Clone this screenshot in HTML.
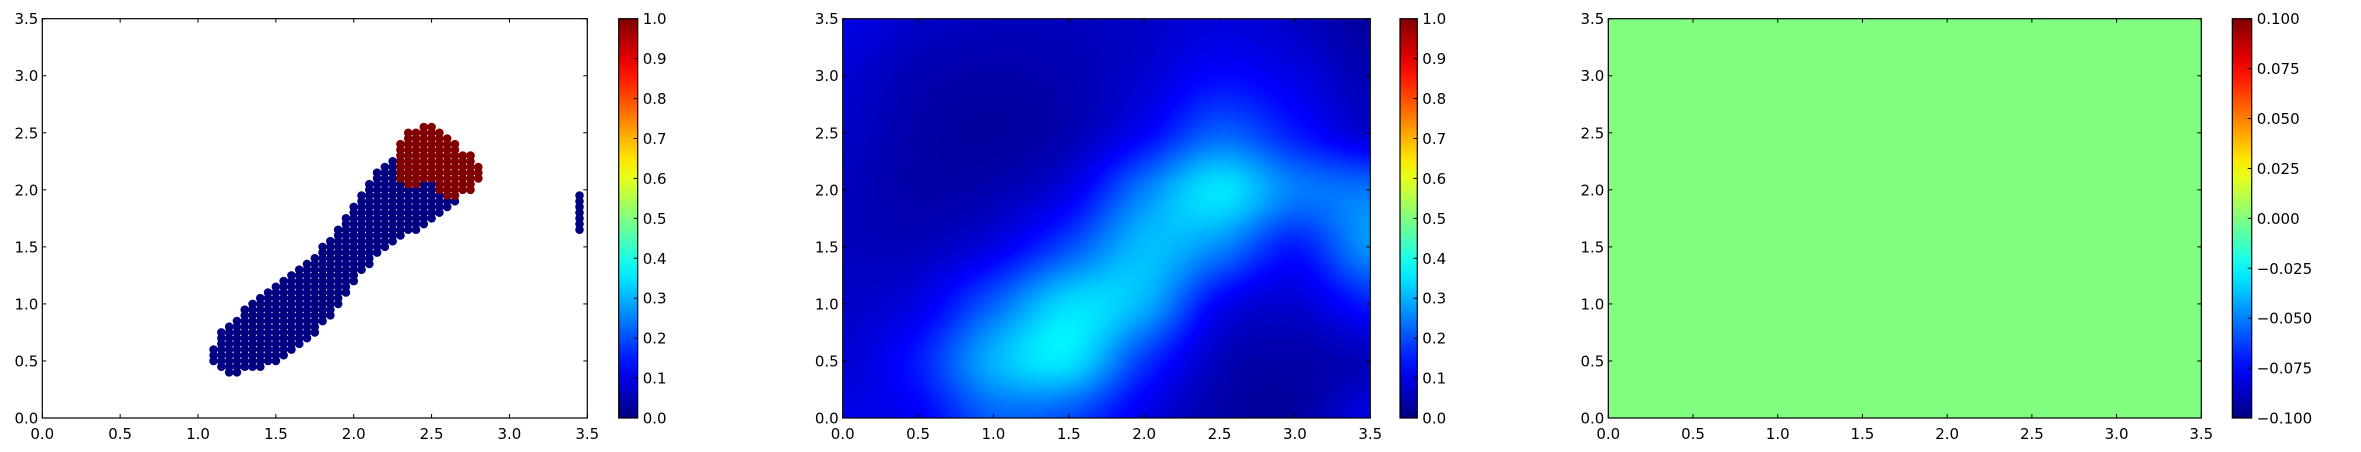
<!DOCTYPE html>
<html><head><meta charset="utf-8">
<style>
html,body{margin:0;padding:0;background:#fff;width:2361px;height:452px;overflow:hidden}
#wrap{position:relative;width:2361px;height:452px}
canvas,svg{position:absolute;left:0;top:0}
text{font-family:"DejaVu Sans","Liberation Sans",sans-serif;font-size:15px;fill:#000}
</style></head>
<body>
<div id="wrap">
<canvas id="heat" width="2361" height="452"></canvas>
<svg id="fig" width="2361" height="452" xmlns="http://www.w3.org/2000/svg"></svg>
</div>
<script>
// ---- Panel 1 scatter data (columns at x step 0.05) ----
const colX = [1.10,1.15,1.20,1.25,1.30,1.35,1.40,1.45,1.50,1.55,1.60,1.65,1.70,1.75,1.80,1.85,1.90,1.95,2.00,2.05,2.10,2.15,2.20,2.25,2.30,2.35,2.40,2.45,2.50,2.55,2.60,2.65];
const blueLo = [0.50,0.45,0.40,0.40,0.45,0.45,0.45,0.50,0.50,0.55,0.60,0.65,0.70,0.75,0.85,0.90,1.00,1.10,1.20,1.30,1.35,1.45,1.50,1.55,1.60,1.65,1.65,1.70,1.75,1.80,1.85,1.90];
const blueHi = [0.60,0.75,0.80,0.85,0.95,1.00,1.05,1.10,1.15,1.20,1.25,1.30,1.35,1.40,1.50,1.55,1.65,1.75,1.85,1.95,2.05,2.15,2.20,2.25,2.25,2.25,2.20,2.15,2.10,2.05,2.00,1.95];
const redX  = [2.30,2.35,2.40,2.45,2.50,2.55,2.60,2.65,2.70,2.75,2.80];
const redLo = [2.10,2.05,2.05,2.10,2.10,2.00,1.95,1.95,2.00,2.00,2.10];
const redHi = [2.40,2.50,2.50,2.55,2.55,2.50,2.45,2.40,2.30,2.30,2.20];
const outX = [3.45];
const outLo = [1.65];
const outHi = [1.95];
// ---- Panel 2 field values (rows y=3.5..0, cols x=0..3.5 step 0.5) ----
const fieldRow35 = [0.10,0.07,0.06,0.06,0.07,0.09,0.07,0.03];
const fieldRow30 = [0.08,0.05,0.04,0.05,0.08,0.13,0.10,0.05];
const fieldRow25 = [0.07,0.04,0.03,0.05,0.12,0.22,0.15,0.08];
const fieldRow20 = [0.06,0.04,0.05,0.10,0.25,0.35,0.25,0.24];
const fieldRow15 = [0.06,0.06,0.10,0.20,0.31,0.26,0.15,0.27];
const fieldRow10 = [0.07,0.10,0.22,0.34,0.30,0.12,0.08,0.15];
const fieldRow05 = [0.08,0.15,0.30,0.35,0.18,0.06,0.04,0.06];
const fieldRow00 = [0.10,0.12,0.22,0.20,0.10,0.04,0.03,0.10];
// ---- Ticks ----
const axisTicks = [0,0.5,1,1.5,2,2.5,3,3.5];
const axisTickLabels = ["0.0","0.5","1.0","1.5","2.0","2.5","3.0","3.5"];
const cbTicks01 = [0,0.1,0.2,0.3,0.4,0.5,0.6,0.7,0.8,0.9,1.0];
const cbLabels01 = ["0.0","0.1","0.2","0.3","0.4","0.5","0.6","0.7","0.8","0.9","1.0"];
const cbTicks3 = [-0.1,-0.075,-0.05,-0.025,0,0.025,0.05,0.075,0.1];
const cbLabels3 = ["\u22120.100","\u22120.075","\u22120.050","\u22120.025","0.000","0.025","0.050","0.075","0.100"];
const panel3Value = 0.0;

const NS="http://www.w3.org/2000/svg";
const svg=document.getElementById('fig');
function mk(tag,attrs,parent){const e=document.createElementNS(NS,tag);for(const k in attrs)e.setAttribute(k,attrs[k]);(parent||svg).appendChild(e);return e;}
function jet(v){v=Math.max(0,Math.min(1,v));
 const cl=x=>Math.max(0,Math.min(1,x));
 const r=cl(1.5-Math.abs(4*v-3)), g=cl(1.5-Math.abs(4*v-2)), b=cl(1.5-Math.abs(4*v-1));
 return [Math.round(r*255),Math.round(g*255),Math.round(b*255)];}
const TOP=18.7, BOT=418;
const panels=[{L:42.3,R:587.3},{L:842.7,R:1370.3},{L:1608.3,R:2201.3}];
const cbs=[{L:618.7,R:637.7},{L:1400,R:1417.3},{L:2232.3,R:2251.7}];
function sx(p,v){return p.L+(p.R-p.L)*v/3.5;}
function sy(v){return BOT-(BOT-TOP)*v/3.5;}

// Panel 2 heatmap on canvas (Catmull-Rom bicubic interpolation)
const field=[fieldRow35,fieldRow30,fieldRow25,fieldRow20,fieldRow15,fieldRow10,fieldRow05,fieldRow00];
(function(){const c=document.getElementById('heat').getContext('2d');const p=panels[1];
 const x0=Math.round(p.L),x1=Math.round(p.R),y0=Math.round(TOP),y1=Math.round(BOT);
 const W=x1-x0,H=y1-y0;const img=c.createImageData(W,H);
 const n=field[0].length-1,m=field.length-1;
 const F=(r,cc)=>field[Math.max(0,Math.min(m,r))][Math.max(0,Math.min(n,cc))];
 const cr=(a,b,cc,d,t)=>b+0.5*t*(cc-a+t*(2*a-5*b+4*cc-d+t*(3*(b-cc)+d-a)));
 for(let j=0;j<H;j++){const fy=j/(H-1)*m;const r0=Math.min(m-1,Math.floor(fy));const ty=fy-r0;
  for(let i=0;i<W;i++){const fx=i/(W-1)*n;const c0=Math.min(n-1,Math.floor(fx));const tx=fx-c0;
   const rows=[];for(let k=-1;k<=2;k++){rows.push(cr(F(r0+k,c0-1),F(r0+k,c0),F(r0+k,c0+1),F(r0+k,c0+2),tx));}
   const v=cr(rows[0],rows[1],rows[2],rows[3],ty);
   const col=jet(v);const k=(j*W+i)*4;img.data[k]=col[0];img.data[k+1]=col[1];img.data[k+2]=col[2];img.data[k+3]=255;}}
 c.putImageData(img,x0,y0);})();

// Panel 3 fill
const p3=panels[2];const g3=jet((panel3Value+0.1)/0.2);
const fill3=mk('rect',{x:p3.L,y:TOP,width:p3.R-p3.L,height:BOT-TOP,fill:`rgb(${g3.join(',')})`});



// Panel 1 scatter
const p1=panels[0];
const scat=mk('g',{});
function drawCols(xs,lo,hi,fillc,name){
 for(let i=0;i<xs.length;i++){for(let y=lo[i];y<=hi[i]+1e-6;y+=0.05){
  const c=mk('circle',{cx:sx(p1,xs[i]),cy:sy(y),r:4.3,fill:fillc},scat);
  
  }}}
drawCols(colX,blueLo,blueHi,'#000080','point-class-0');
drawCols(redX,redLo,redHi,'#800000','point-class-1');
drawCols(outX,outLo,outHi,'#000080','point-class-0');
mk('defs',{}).innerHTML='<clipPath id="c1"><rect x="'+p1.L+'" y="'+TOP+'" width="'+(p1.R-p1.L)+'" height="'+(BOT-TOP)+'"/></clipPath>';
scat.setAttribute('clip-path','url(#c1)');

// Axes
panels.forEach((p,pi)=>{
 const g=mk('g',{});
 axisTicks.forEach((t,i)=>{
  const x=sx(p,t),y=sy(t);
  mk('line',{x1:x,y1:BOT,x2:x,y2:BOT-4,stroke:'#000','stroke-width':1},g);
  mk('line',{x1:x,y1:TOP,x2:x,y2:TOP+4,stroke:'#000','stroke-width':1},g);
  mk('line',{x1:p.L,y1:y,x2:p.L+4,y2:y,stroke:'#000','stroke-width':1},g);
  mk('line',{x1:p.R,y1:y,x2:p.R-4,y2:y,stroke:'#000','stroke-width':1},g);
  const xl=mk('text',{x:x,y:439,'text-anchor':'middle'},g);xl.textContent=axisTickLabels[i];
  
  const yl=mk('text',{x:p.L-4,y:y+5.5,'text-anchor':'end'},g);yl.textContent=axisTickLabels[i];
  
 });
 mk('rect',{x:p.L,y:TOP,width:p.R-p.L,height:BOT-TOP,fill:'none',stroke:'#000','stroke-width':1.2},g);
});

// Colorbars
const grad=mk('defs',{});
let stops='';for(let i=0;i<=20;i++){const c=jet(i/20);stops+=`<stop offset="${i/20}" stop-color="rgb(${c.join(',')})"/>`;}
grad.innerHTML='<linearGradient id="jetg" x1="0" y1="1" x2="0" y2="0">'+stops+'</linearGradient>';
cbs.forEach((cb,ci)=>{
 const g=mk('g',{});
 mk('rect',{x:cb.L,y:TOP,width:cb.R-cb.L,height:BOT-TOP,fill:'url(#jetg)',stroke:'#000','stroke-width':1.2},g);
 const ticks=ci<2?cbTicks01:cbTicks3, labels=ci<2?cbLabels01:cbLabels3;
 const lo=ticks[0],hi=ticks[ticks.length-1];
 ticks.forEach((t,i)=>{const y=BOT-(BOT-TOP)*(t-lo)/(hi-lo);
  mk('line',{x1:cb.R,y1:y,x2:cb.R-4,y2:y,stroke:'#000','stroke-width':1},g);
  const l=mk('text',{x:cb.R+5,y:y+5.5},g);l.textContent=labels[i];
  });
});
</script>
</body></html>
